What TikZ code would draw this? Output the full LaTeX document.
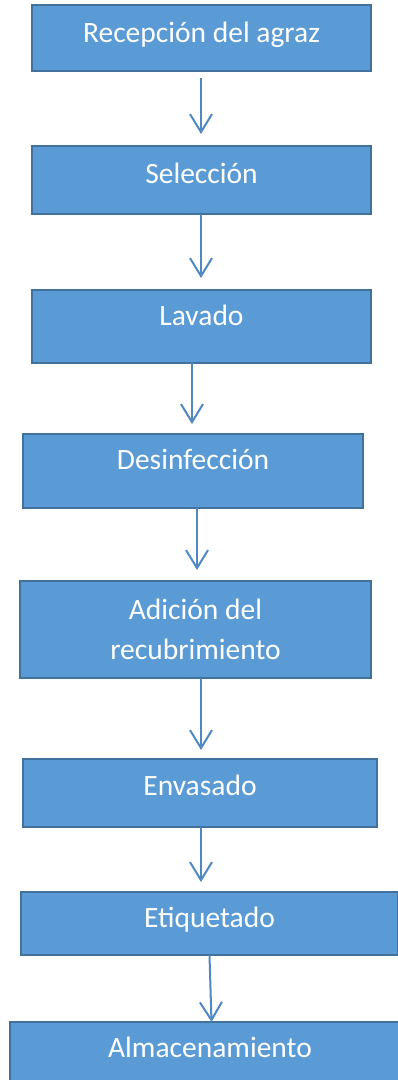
\documentclass[tikz,border=0pt]{standalone}
\usepackage{fontspec}
\setmainfont{Carlito}
\usetikzlibrary{arrows.meta}
\definecolor{boxfill}{HTML}{5B9BD5}
\definecolor{boxline}{HTML}{41719C}
\definecolor{arrcol}{HTML}{5088C4}
\tikzset{
  stepbox/.style={draw=boxline, line width=2pt, fill=boxfill, text=white,
    inner sep=0pt, outer sep=0pt, font={\fontsize{29.5}{40}\selectfont},
    text height=0pt, text depth=0pt},
  flowarr/.style={draw=arrcol, line width=2pt,
    -{Straight Barb[length=18pt,width=22pt,line width=2pt]}}
}
\begin{document}
\begin{tikzpicture}[x=1pt,y=-1pt]
\useasboundingbox (0,0) rectangle (397,1080);
\node[stepbox, minimum width=339pt, minimum height=66pt, text height=8pt] (b1) at (201.5,38) {Recepción del agraz};
\node[stepbox, minimum width=339pt, minimum height=68pt, text height=6pt] (b2) at (201.5,180) {Selección};
\node[stepbox, minimum width=339pt, minimum height=73pt, text depth=3pt] (b3) at (201.5,326.5) {Lavado};
\node[stepbox, minimum width=340pt, minimum height=74pt, text depth=4pt] (b4) at (193,471) {Desinfección};
\node[stepbox, minimum width=351pt, minimum height=97pt, align=center, text height=, text depth=] (b5) at (195.5,629.5) {Adición del\\recubrimiento};
\node[stepbox, minimum width=354pt, minimum height=68pt, text height=4pt] (b6) at (200,793) {Envasado};
\node[stepbox, minimum width=377pt, minimum height=63pt, text height=7pt] (b7) at (209.5,923.5) {Etiquetado};
\node[stepbox, minimum width=400pt, minimum height=70pt] (b8) at (210,1057) {Almacenamiento};

\draw[flowarr, shorten <=7pt, shorten >=12pt] ([xshift=-0.5pt]b1.south) -- ([xshift=-0.5pt]b1.south |- b2.north);
\draw[flowarr, shorten >=12pt] ([xshift=-0.5pt]b2.south) -- ([xshift=-0.5pt]b2.south |- b3.north);
\draw[flowarr, shorten >=10pt] ([xshift=-9.5pt]b3.south) -- ([xshift=-9.5pt]b3.south |- b4.north);
\draw[flowarr, shorten >=11pt] ([xshift=4pt]b4.south) -- ([xshift=4pt]b4.south |- b5.north);
\draw[flowarr, shorten >=9pt] ([xshift=5.5pt]b5.south) -- ([xshift=5.5pt]b5.south |- b6.north);
\draw[flowarr, shorten >=10pt] ([xshift=1pt]b6.south) -- ([xshift=1pt]b6.south |- b7.north);
\draw[flowarr] (b7.south) -- ([xshift=1.5pt]b8.north);
\end{tikzpicture}
\end{document}
